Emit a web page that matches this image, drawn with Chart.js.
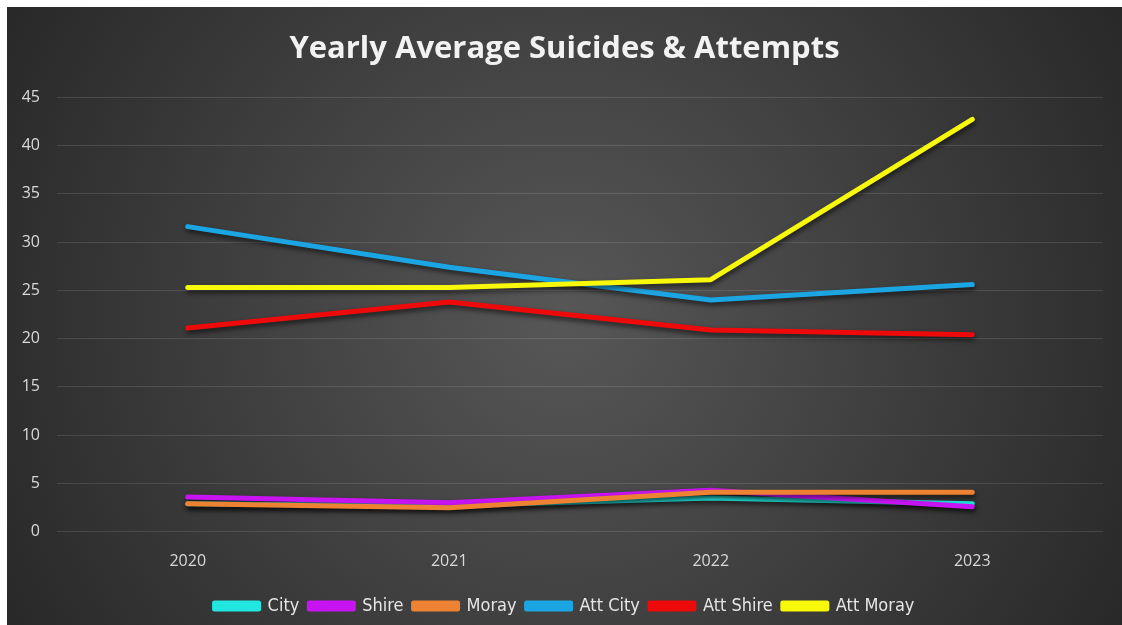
<!DOCTYPE html>
<html>
<head>
<meta charset="utf-8">
<script src="https://cdn.jsdelivr.net/npm/chart.js"></script>
<style>
    html, body { margin: 0; padding: 0; background: #ffffff; }
    #wrap { position: absolute; left: 7px; top: 7px; width: 1115px; height: 618px; }
</style>
</head>
<body>
<div id="wrap"><canvas id="trendChart"></canvas></div>
<script>
    // data
    const years = ['2020', '2021', '2022', '2023'];
    const city = [2.9, 2.7, 3.5, 2.9];
    const shire = [3.6, 3.0, 4.3, 2.6];
    const moray = [2.9, 2.5, 4.1, 4.1];
    const attCity = [31.6, 27.4, 24.0, 25.6];
    const attShire = [21.1, 23.8, 20.9, 20.4];
    const attMoray = [25.3, 25.3, 26.1, 42.7];

    const seriesColors = {
        city: '#22e6e0',
        shire: '#c814f2',
        moray: '#ee8233',
        attCity: '#1ba6e3',
        attShire: '#ee0a0a',
        attMoray: '#f8f80a'
    };

    const tickFont = { family: 'Open Sans', size: 16 };

    // dark radial background behind everything
    const backdrop = {
        id: 'backdrop',
        beforeDraw(chart) {
            const ctx = chart.ctx;
            const w = chart.width, h = chart.height;
            const g = ctx.createRadialGradient(w * 0.5, h * 0.5, 0, w * 0.5, h * 0.5, w * 0.6);
            g.addColorStop(0, '#575757');
            g.addColorStop(1, '#262626');
            ctx.save();
            ctx.fillStyle = g;
            ctx.fillRect(0, 0, w, h);
            ctx.restore();
        }
    };

    // soft drop shadow under the lines
    const lineShadow = {
        id: 'lineShadow',
        beforeDatasetDraw(chart) {
            const ctx = chart.ctx;
            ctx.save();
            ctx.shadowColor = 'rgba(0,0,0,0.6)';
            ctx.shadowBlur = 5;
            ctx.shadowOffsetX = 1;
            ctx.shadowOffsetY = 3;
        },
        afterDatasetDraw(chart) {
            chart.ctx.restore();
        }
    };

    function makeSet(label, values, color, order) {
        return {
            label: label,
            data: values,
            borderColor: color,
            backgroundColor: color,
            borderWidth: 5,
            pointRadius: 0,
            tension: 0,
            borderCapStyle: 'round',
            borderJoinStyle: 'round',
            yAxisID: 'y',
            order: order
        };
    }

    const ctx = document.getElementById('trendChart').getContext('2d');
    new Chart(ctx, {
        type: 'line',
        data: {
            labels: years,
            datasets: [
                makeSet('City', city, seriesColors.city, 6),
                makeSet('Shire', shire, seriesColors.shire, 5),
                makeSet('Moray', moray, seriesColors.moray, 4),
                makeSet('Att City', attCity, seriesColors.attCity, 3),
                makeSet('Att Shire', attShire, seriesColors.attShire, 2),
                makeSet('Att Moray', attMoray, seriesColors.attMoray, 1)
            ]
        },
        options: {
            responsive: true,
            maintainAspectRatio: false,
            animation: false,
            layout: { padding: { left: 10, right: 10, top: 12, bottom: 0 } },
            plugins: {
                title: {
                    display: true,
                    text: 'Yearly Average Suicides & Attempts',
                    color: '#f2f2f2',
                    font: { family: 'Open Sans', size: 31, weight: 'bold' },
                    padding: { top: 12, bottom: 29 }
                },
                legend: {
                    position: 'bottom',
                    labels: {
                        color: '#e6e6e6',
                        font: { family: 'Liberation Sans Narrow, DejaVu Sans Condensed, Open Sans', size: 18 },
                        boxWidth: 44,
                        boxHeight: 6,
                        padding: 10,
                        sort: (a, b) => a.datasetIndex - b.datasetIndex
                    }
                },
                tooltip: { enabled: false }
            },
            scales: {
                x: {
                    offset: true,
                    grid: { display: false, drawTicks: false },
                    border: { display: false },
                    ticks: { color: '#d9d9d9', font: tickFont, padding: 20 },
                    afterFit(scale) { scale.height -= 4; }
                },
                y: {
                    min: 0,
                    max: 45,
                    ticks: { stepSize: 5, color: '#d9d9d9', font: tickFont, padding: 17 },
                    grid: { color: 'rgba(255,255,255,0.12)', drawTicks: false },
                    border: { display: false },
                    afterFit(scale) { scale.width = 40; }
                },
                // empty axis on the right only to leave room there
                yRight: {
                    position: 'right',
                    display: true,
                    grid: { display: false },
                    border: { display: false },
                    ticks: { display: false },
                    afterFit(scale) { scale.width = 9; }
                }
            }
        },
        plugins: [backdrop, lineShadow]
    });
</script>
</body>
</html>
